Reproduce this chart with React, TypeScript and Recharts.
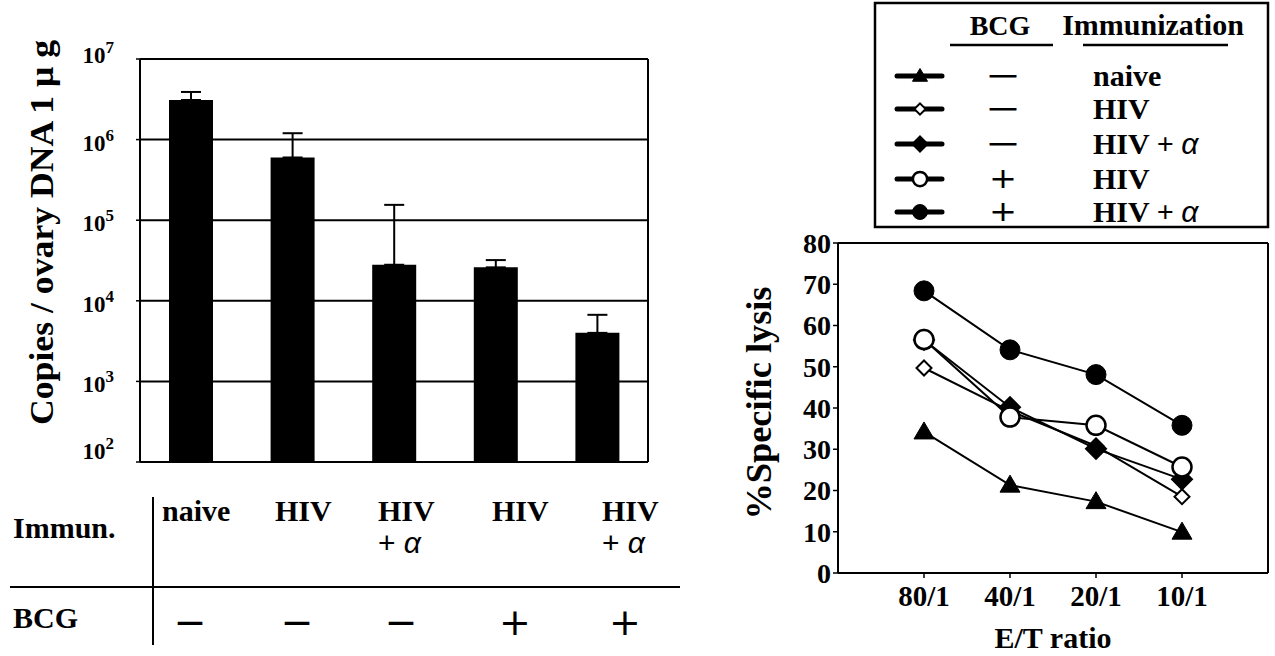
import React from "react";
import {
  BarChart,
  Bar,
  ErrorBar,
  XAxis,
  YAxis,
  CartesianGrid,
  ReferenceLine,
  LineChart,
  Line,
} from "recharts";

const SERIF = "'Liberation Serif', 'Times New Roman', serif";
const SANS = "'Liberation Sans', Arial, sans-serif";
const SIGN_FONT = "'DejaVu Sans', sans-serif";

// left panel: viral copies per ovary DNA (log scale)
const groups = ["naive", "HIV", "HIV + α", "HIV", "HIV + α"];
const groupBcg = ["−", "−", "−", "+", "+"];
const copies = [3.1e6, 6.0e5, 2.8e4, 2.6e4, 4.0e3];
const copiesUpper = [3.9e6, 1.2e6, 1.55e5, 3.2e4, 6.7e3];
const logTicks = [1e2, 1e3, 1e4, 1e5, 1e6, 1e7];

// right panel: CTL lysis
const ratios = ["80/1", "40/1", "20/1", "10/1"];
const lysisTicks = [0, 10, 20, 30, 40, 50, 60, 70, 80];
const naiveLysis = [34.2, 21.3, 17.3, 9.9];
const hivLysis = [49.7, 39.3, 30.8, 18.5];
const hivAlphaLysis = [56.5, 40.2, 30.1, 22.7];
const bcgHivLysis = [56.6, 37.8, 35.8, 25.7];
const bcgHivAlphaLysis = [68.4, 54.1, 48.1, 35.8];

type Shape = "triangle" | "diamondOpen" | "diamond" | "circleOpen" | "circle";

const series: { key: string; shape: Shape; bcg: string; label: string; values: number[] }[] = [
  { key: "naive", shape: "triangle", bcg: "−", label: "naive", values: naiveLysis },
  { key: "hiv", shape: "diamondOpen", bcg: "−", label: "HIV", values: hivLysis },
  { key: "hivAlpha", shape: "diamond", bcg: "−", label: "HIV + α", values: hivAlphaLysis },
  { key: "bcgHiv", shape: "circleOpen", bcg: "+", label: "HIV", values: bcgHivLysis },
  { key: "bcgHivAlpha", shape: "circle", bcg: "+", label: "HIV + α", values: bcgHivAlphaLysis },
];

const barData = groups.map((g, i) => ({
  pos: i + 1,
  group: g,
  value: copies[i],
  err: [0, copiesUpper[i] - copies[i]],
}));

const lineData = ratios.map((r, i) => {
  const row: Record<string, number | string> = { x: i + 1, ratio: r };
  series.forEach((s) => {
    row[s.key] = s.values[i];
  });
  return row;
});

const boldSerif = { fontFamily: SERIF, fontWeight: 700 };

function Marker({ shape, cx, cy, k = 1 }: { shape: Shape; cx: number; cy: number; k?: number }) {
  if (shape === "triangle") {
    const w = 10 * k;
    return (
      <path
        d={`M${cx},${cy - 10 * k} L${cx + w},${cy + 7 * k} L${cx - w},${cy + 7 * k} Z`}
        fill="#000"
        stroke="#000"
        strokeWidth={1}
      />
    );
  }
  if (shape === "diamondOpen" || shape === "diamond") {
    const h = (shape === "diamond" ? 10 : 7.5) * k;
    return (
      <path
        d={`M${cx},${cy - h} L${cx + h},${cy} L${cx},${cy + h} L${cx - h},${cy} Z`}
        fill={shape === "diamond" ? "#000" : "#fff"}
        stroke="#000"
        strokeWidth={2}
      />
    );
  }
  return (
    <circle
      cx={cx}
      cy={cy}
      r={(shape === "circle" ? 10 : 9.5) * k}
      fill={shape === "circle" ? "#000" : "#fff"}
      stroke="#000"
      strokeWidth={shape === "circle" ? 1 : 2.5}
    />
  );
}

function LogTick(props: any) {
  const { x, y, payload } = props;
  const exp = Math.round(Math.log10(payload.value));
  // the end labels sit a little inside the frame in the original
  const base = exp === 2 ? y - 3 : exp === 7 ? y + 4 : y + 11;
  return (
    <text x={x - 20} y={base} textAnchor="end" fill="#000" style={{ ...boldSerif, fontSize: 23 }}>
      10
      <tspan dy={-10} style={{ fontSize: 17 }}>
        {exp}
      </tspan>
    </text>
  );
}

function AxisTitle(props: any) {
  const { viewBox, text, dx, dy, length, size } = props;
  const cx = viewBox.x + dx;
  const cy = viewBox.y + viewBox.height / 2 + dy;
  return (
    <text
      x={cx}
      y={cy}
      transform={`rotate(-90, ${cx}, ${cy})`}
      textAnchor="middle"
      dominantBaseline="central"
      textLength={length}
      lengthAdjust="spacingAndGlyphs"
      fill="#000"
      style={{ ...boldSerif, fontSize: size }}
    >
      {text}
    </text>
  );
}

function LabelText({ text, x, y, size }: { text: string; x: number; y: number; size: number }) {
  const parts = text.split("α");
  return (
    <text x={x} y={y} fill="#000" style={{ ...boldSerif, fontSize: size }}>
      {parts[0]}
      {parts.length > 1 && (
        <tspan style={{ fontFamily: SANS, fontStyle: "italic", fontWeight: 400 }}>α</tspan>
      )}
    </text>
  );
}

// the Immun./BCG grid under the bars
const tableLabelX = [162, 275, 378, 492, 602];
const tableSignX = [190, 297, 401, 515, 625];

function GroupTable() {
  return (
    <svg width={700} height={176} style={{ position: "absolute", left: 0, top: 480 }}>
      <text x={13} y={58} style={{ ...boldSerif, fontSize: 30 }}>
        Immun.
      </text>
      <text x={13} y={148} style={{ ...boldSerif, fontSize: 30 }}>
        BCG
      </text>
      <line x1={153} y1={17} x2={153} y2={165} stroke="#000" strokeWidth={2} />
      <line x1={10} y1={107} x2={680} y2={107} stroke="#000" strokeWidth={2} />
      {groups.map((g, i) => {
        const [main, extra] = g.split(" + ");
        return (
          <g key={i}>
            <text x={tableLabelX[i]} y={41} style={{ ...boldSerif, fontSize: 30 }}>
              {main}
            </text>
            {extra && (
              <text x={tableLabelX[i]} y={73} style={{ fontFamily: SANS, fontSize: 30 }}>
                {"+ "}
                <tspan style={{ fontStyle: "italic" }}>{extra}</tspan>
              </text>
            )}
            <text
              x={tableSignX[i]}
              y={155}
              textAnchor="middle"
              textLength={groupBcg[i] === "+" ? undefined : 33}
              lengthAdjust="spacingAndGlyphs"
              style={{ fontFamily: SIGN_FONT, fontSize: 38 }}
            >
              {groupBcg[i]}
            </text>
          </g>
        );
      })}
    </svg>
  );
}

const legendRows = [76, 109, 144, 179, 212];

function LegendBox() {
  return (
    <svg width={1275} height={232} style={{ position: "absolute", left: 0, top: 0 }}>
      <rect x={875} y={3} width={393} height={224} fill="#fff" stroke="#000" strokeWidth={2.5} />
      <text x={1000} y={35} textAnchor="middle" style={{ ...boldSerif, fontSize: 28 }}>
        BCG
      </text>
      <text x={1153} y={35} textAnchor="middle" style={{ ...boldSerif, fontSize: 30 }}>
        Immunization
      </text>
      <line x1={950} y1={45} x2={1053} y2={45} stroke="#000" strokeWidth={2.5} />
      <line x1={1083} y1={45} x2={1228} y2={45} stroke="#000" strokeWidth={2.5} />
      {series.map((s, i) => {
        const y = legendRows[i];
        return (
          <g key={s.key}>
            <line x1={897} y1={y} x2={942} y2={y} stroke="#000" strokeWidth={5} strokeLinecap="round" />
            <Marker shape={s.shape} cx={920} cy={y} k={0.75} />
            <text
              x={1003}
              y={y + 9}
              textAnchor="middle"
              textLength={s.bcg === "+" ? 28 : 36}
              lengthAdjust="spacingAndGlyphs"
              style={{ fontFamily: SIGN_FONT, fontSize: 28 }}
            >
              {s.bcg}
            </text>
            <LabelText text={s.label} x={1093} y={y + 10} size={30} />
          </g>
        );
      })}
    </svg>
  );
}

export default function App() {
  return (
    <div
      style={{
        position: "absolute",
        left: 0,
        top: 0,
        width: 1275,
        height: 656,
        background: "#fff",
        overflow: "hidden",
      }}
    >
      <div style={{ position: "absolute", left: 0, top: 0 }}>
        <BarChart width={660} height={480} data={barData} margin={{ top: 59, right: 12, left: 0, bottom: 18 }}>
          <CartesianGrid vertical={false} stroke="#000" strokeWidth={2} />
          <XAxis
            type="number"
            dataKey="pos"
            domain={[0.5, 5.5]}
            ticks={[1.5, 2.5, 3.5, 4.5]}
            tick={false}
            mirror
            height={0}
            tickSize={6}
            axisLine={{ stroke: "#000", strokeWidth: 2 }}
            tickLine={{ stroke: "#000", strokeWidth: 1.5 }}
          />
          <YAxis
            scale="log"
            domain={[100, 1e7]}
            ticks={logTicks}
            allowDataOverflow
            width={140}
            tickSize={4}
            tick={<LogTick />}
            axisLine={{ stroke: "#000", strokeWidth: 2 }}
            tickLine={{ stroke: "#000", strokeWidth: 1.5 }}
            label={<AxisTitle text="Copies / ovary DNA 1 μ g" dx={42} dy={-28} length={385} size={33} />}
          />
          <ReferenceLine x={5.5} stroke="#000" strokeWidth={2} />
          <Bar dataKey="value" fill="#000" barSize={44} isAnimationActive={false}>
            <ErrorBar dataKey="err" direction="y" width={10} stroke="#000" strokeWidth={2} />
          </Bar>
        </BarChart>
      </div>

      <GroupTable />

      <div style={{ position: "absolute", left: 740, top: 200 }}>
        <LineChart width={535} height={456} data={lineData} margin={{ top: 43, right: 7, left: 0, bottom: 0 }}>
          <XAxis
            type="number"
            dataKey="x"
            domain={[0, 5]}
            ticks={[1, 2, 3, 4]}
            tickFormatter={(v: number) => ratios[v - 1]}
            height={83}
            tickSize={5}
            tickMargin={7}
            axisLine={{ stroke: "#000", strokeWidth: 2 }}
            tickLine={{ stroke: "#000", strokeWidth: 1.5 }}
            tick={{ fill: "#000", fontFamily: SERIF, fontWeight: "bold", fontSize: 29 }}
            label={{
              value: "E/T ratio",
              position: "insideBottom",
              offset: 8,
              style: { fill: "#000", fontFamily: SERIF, fontWeight: "bold", fontSize: 30 },
            }}
          />
          <YAxis
            domain={[0, 80]}
            ticks={lysisTicks}
            width={98}
            tickSize={5}
            axisLine={{ stroke: "#000", strokeWidth: 2 }}
            tickLine={{ stroke: "#000", strokeWidth: 1.5 }}
            tick={{ fill: "#000", fontFamily: SERIF, fontWeight: "bold", fontSize: 28 }}
            label={<AxisTitle text="%Specific lysis" dx={19} dy={-5} length={233} size={35} />}
          />
          <ReferenceLine y={80} stroke="#000" strokeWidth={2} />
          <ReferenceLine x={5} stroke="#000" strokeWidth={2} />
          {series.map((s) => (
            <Line
              key={s.key}
              dataKey={s.key}
              stroke="#000"
              strokeWidth={2}
              isAnimationActive={false}
              activeDot={false}
              dot={(p: any) => <Marker key={`${s.key}-${p.index}`} shape={s.shape} cx={p.cx} cy={p.cy} />}
            />
          ))}
        </LineChart>
      </div>

      <LegendBox />
    </div>
  );
}
